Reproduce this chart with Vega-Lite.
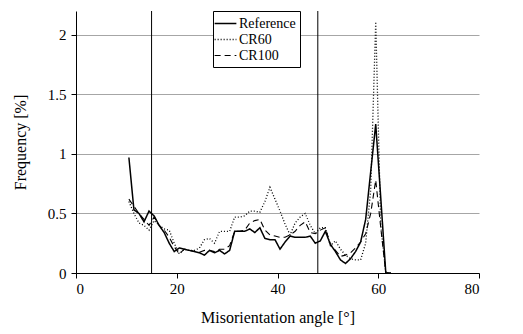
{
  "$schema": "https://vega.github.io/schema/vega-lite/v6.json",
  "width": 403,
  "height": 262,
  "autosize": {"type": "none"},
  "padding": {"left": 76, "top": 11, "right": 44, "bottom": 61},
  "background": "white",
  "config": {
    "view": {"stroke": null},
    "font": "Liberation Serif",
    "axis": {
      "domainColor": "black",
      "tickColor": "black",
      "tickSize": 5,
      "labelFont": "Liberation Serif",
      "labelFontSize": 15,
      "labelColor": "black",
      "titleFont": "Liberation Serif",
      "titleFontSize": 16,
      "titleFontWeight": "normal",
      "titleColor": "black"
    }
  },
  "datasets": {
    "freq": [
      {"a": 10.5, "s": "Reference", "f": 0.97}, {"a": 11.5, "s": "Reference", "f": 0.53}, {"a": 12.5, "s": "Reference", "f": 0.50},
      {"a": 13.5, "s": "Reference", "f": 0.43}, {"a": 14.5, "s": "Reference", "f": 0.52}, {"a": 15.5, "s": "Reference", "f": 0.48},
      {"a": 16.5, "s": "Reference", "f": 0.40}, {"a": 17.5, "s": "Reference", "f": 0.34}, {"a": 18.5, "s": "Reference", "f": 0.25},
      {"a": 19.5, "s": "Reference", "f": 0.18}, {"a": 20.5, "s": "Reference", "f": 0.21}, {"a": 21.5, "s": "Reference", "f": 0.20},
      {"a": 22.5, "s": "Reference", "f": 0.19}, {"a": 23.5, "s": "Reference", "f": 0.18}, {"a": 24.5, "s": "Reference", "f": 0.17},
      {"a": 25.5, "s": "Reference", "f": 0.15}, {"a": 26.5, "s": "Reference", "f": 0.19}, {"a": 27.5, "s": "Reference", "f": 0.17},
      {"a": 28.5, "s": "Reference", "f": 0.19}, {"a": 29.5, "s": "Reference", "f": 0.16}, {"a": 30.5, "s": "Reference", "f": 0.19},
      {"a": 31.5, "s": "Reference", "f": 0.35}, {"a": 32.5, "s": "Reference", "f": 0.35}, {"a": 33.5, "s": "Reference", "f": 0.35},
      {"a": 34.5, "s": "Reference", "f": 0.37}, {"a": 35.5, "s": "Reference", "f": 0.34}, {"a": 36.5, "s": "Reference", "f": 0.38},
      {"a": 37.5, "s": "Reference", "f": 0.29}, {"a": 38.5, "s": "Reference", "f": 0.28}, {"a": 39.5, "s": "Reference", "f": 0.28},
      {"a": 40.5, "s": "Reference", "f": 0.20}, {"a": 41.5, "s": "Reference", "f": 0.26}, {"a": 42.5, "s": "Reference", "f": 0.31},
      {"a": 43.5, "s": "Reference", "f": 0.30}, {"a": 44.5, "s": "Reference", "f": 0.30}, {"a": 45.5, "s": "Reference", "f": 0.30},
      {"a": 46.5, "s": "Reference", "f": 0.31}, {"a": 47.5, "s": "Reference", "f": 0.25}, {"a": 48.5, "s": "Reference", "f": 0.27},
      {"a": 49.5, "s": "Reference", "f": 0.35}, {"a": 50.5, "s": "Reference", "f": 0.24}, {"a": 51.5, "s": "Reference", "f": 0.18},
      {"a": 52.5, "s": "Reference", "f": 0.11}, {"a": 53.5, "s": "Reference", "f": 0.08}, {"a": 54.5, "s": "Reference", "f": 0.12},
      {"a": 55.5, "s": "Reference", "f": 0.18}, {"a": 56.5, "s": "Reference", "f": 0.26}, {"a": 57.5, "s": "Reference", "f": 0.45},
      {"a": 58.5, "s": "Reference", "f": 0.85}, {"a": 59.5, "s": "Reference", "f": 1.25}, {"a": 60.5, "s": "Reference", "f": 0.63},
      {"a": 61.5, "s": "Reference", "f": 0.0}, {"a": 62.5, "s": "Reference", "f": 0.0},

      {"a": 10.5, "s": "CR60", "f": 0.60}, {"a": 11.5, "s": "CR60", "f": 0.50}, {"a": 12.5, "s": "CR60", "f": 0.42},
      {"a": 13.5, "s": "CR60", "f": 0.40}, {"a": 14.5, "s": "CR60", "f": 0.36}, {"a": 15.5, "s": "CR60", "f": 0.44},
      {"a": 16.5, "s": "CR60", "f": 0.40}, {"a": 17.5, "s": "CR60", "f": 0.37}, {"a": 18.5, "s": "CR60", "f": 0.36},
      {"a": 19.5, "s": "CR60", "f": 0.25}, {"a": 20.5, "s": "CR60", "f": 0.16}, {"a": 21.5, "s": "CR60", "f": 0.20},
      {"a": 22.5, "s": "CR60", "f": 0.19}, {"a": 23.5, "s": "CR60", "f": 0.19}, {"a": 24.5, "s": "CR60", "f": 0.21},
      {"a": 25.5, "s": "CR60", "f": 0.28}, {"a": 26.5, "s": "CR60", "f": 0.29}, {"a": 27.5, "s": "CR60", "f": 0.25},
      {"a": 28.5, "s": "CR60", "f": 0.35}, {"a": 29.5, "s": "CR60", "f": 0.35}, {"a": 30.5, "s": "CR60", "f": 0.35},
      {"a": 31.5, "s": "CR60", "f": 0.47}, {"a": 32.5, "s": "CR60", "f": 0.47}, {"a": 33.5, "s": "CR60", "f": 0.48},
      {"a": 34.5, "s": "CR60", "f": 0.52}, {"a": 35.5, "s": "CR60", "f": 0.52}, {"a": 36.5, "s": "CR60", "f": 0.51},
      {"a": 37.5, "s": "CR60", "f": 0.60}, {"a": 38.5, "s": "CR60", "f": 0.72}, {"a": 39.5, "s": "CR60", "f": 0.62},
      {"a": 40.5, "s": "CR60", "f": 0.52}, {"a": 41.5, "s": "CR60", "f": 0.41}, {"a": 42.5, "s": "CR60", "f": 0.32},
      {"a": 43.5, "s": "CR60", "f": 0.42}, {"a": 44.5, "s": "CR60", "f": 0.47}, {"a": 45.5, "s": "CR60", "f": 0.50},
      {"a": 46.5, "s": "CR60", "f": 0.40}, {"a": 47.5, "s": "CR60", "f": 0.33}, {"a": 48.5, "s": "CR60", "f": 0.38},
      {"a": 49.5, "s": "CR60", "f": 0.38}, {"a": 50.5, "s": "CR60", "f": 0.23}, {"a": 51.5, "s": "CR60", "f": 0.27},
      {"a": 52.5, "s": "CR60", "f": 0.20}, {"a": 53.5, "s": "CR60", "f": 0.15}, {"a": 54.5, "s": "CR60", "f": 0.12},
      {"a": 55.5, "s": "CR60", "f": 0.11}, {"a": 56.5, "s": "CR60", "f": 0.11}, {"a": 57.5, "s": "CR60", "f": 0.25},
      {"a": 58.5, "s": "CR60", "f": 0.70}, {"a": 59.5, "s": "CR60", "f": 2.11}, {"a": 60.5, "s": "CR60", "f": 0.40},
      {"a": 61.5, "s": "CR60", "f": 0.0}, {"a": 62.5, "s": "CR60", "f": 0.0},

      {"a": 10.5, "s": "CR100", "f": 0.62}, {"a": 11.5, "s": "CR100", "f": 0.56}, {"a": 12.5, "s": "CR100", "f": 0.50},
      {"a": 13.5, "s": "CR100", "f": 0.45}, {"a": 14.5, "s": "CR100", "f": 0.40}, {"a": 15.5, "s": "CR100", "f": 0.47},
      {"a": 16.5, "s": "CR100", "f": 0.40}, {"a": 17.5, "s": "CR100", "f": 0.36}, {"a": 18.5, "s": "CR100", "f": 0.30},
      {"a": 19.5, "s": "CR100", "f": 0.22}, {"a": 20.5, "s": "CR100", "f": 0.16}, {"a": 21.5, "s": "CR100", "f": 0.20},
      {"a": 22.5, "s": "CR100", "f": 0.19}, {"a": 23.5, "s": "CR100", "f": 0.18}, {"a": 24.5, "s": "CR100", "f": 0.175},
      {"a": 25.5, "s": "CR100", "f": 0.19}, {"a": 26.5, "s": "CR100", "f": 0.19}, {"a": 27.5, "s": "CR100", "f": 0.18},
      {"a": 28.5, "s": "CR100", "f": 0.20}, {"a": 29.5, "s": "CR100", "f": 0.20}, {"a": 30.5, "s": "CR100", "f": 0.23},
      {"a": 31.5, "s": "CR100", "f": 0.35}, {"a": 32.5, "s": "CR100", "f": 0.35}, {"a": 33.5, "s": "CR100", "f": 0.36},
      {"a": 34.5, "s": "CR100", "f": 0.42}, {"a": 35.5, "s": "CR100", "f": 0.44}, {"a": 36.5, "s": "CR100", "f": 0.45},
      {"a": 37.5, "s": "CR100", "f": 0.36}, {"a": 38.5, "s": "CR100", "f": 0.32}, {"a": 39.5, "s": "CR100", "f": 0.31},
      {"a": 40.5, "s": "CR100", "f": 0.30}, {"a": 41.5, "s": "CR100", "f": 0.30}, {"a": 42.5, "s": "CR100", "f": 0.32},
      {"a": 43.5, "s": "CR100", "f": 0.35}, {"a": 44.5, "s": "CR100", "f": 0.40}, {"a": 45.5, "s": "CR100", "f": 0.43},
      {"a": 46.5, "s": "CR100", "f": 0.34}, {"a": 47.5, "s": "CR100", "f": 0.33}, {"a": 48.5, "s": "CR100", "f": 0.36},
      {"a": 49.5, "s": "CR100", "f": 0.38}, {"a": 50.5, "s": "CR100", "f": 0.24}, {"a": 51.5, "s": "CR100", "f": 0.19},
      {"a": 52.5, "s": "CR100", "f": 0.14}, {"a": 53.5, "s": "CR100", "f": 0.15}, {"a": 54.5, "s": "CR100", "f": 0.17},
      {"a": 55.5, "s": "CR100", "f": 0.21}, {"a": 56.5, "s": "CR100", "f": 0.26}, {"a": 57.5, "s": "CR100", "f": 0.33},
      {"a": 58.5, "s": "CR100", "f": 0.50}, {"a": 59.5, "s": "CR100", "f": 0.78}, {"a": 60.5, "s": "CR100", "f": 0.38},
      {"a": 61.5, "s": "CR100", "f": 0.0}, {"a": 62.5, "s": "CR100", "f": 0.0}
    ],
    "bounds": [{"b": 15}, {"b": 48}]
  },
  "layer": [
    {
      "data": {"name": "bounds"},
      "mark": {"type": "rule", "color": "black", "strokeWidth": 1},
      "encoding": {
        "x": {"field": "b", "type": "quantitative", "scale": {"domain": [0, 80]}}
      }
    },
    {
      "mark": {"type": "rule", "color": "black", "strokeWidth": 1},
      "encoding": {"y": {"datum": 2.2, "type": "quantitative"}}
    },
    {
      "data": {"name": "freq"},
      "mark": {"type": "line", "color": "black"},
      "encoding": {
        "x": {
          "field": "a", "type": "quantitative",
          "scale": {"domain": [0, 80], "nice": false},
          "axis": {"values": [0, 20, 40, 60, 80], "grid": false, "title": "Misorientation angle [°]", "labelPadding": 3, "titleBaseline": "alphabetic", "titleY": 49}
        },
        "y": {
          "field": "f", "type": "quantitative",
          "scale": {"domain": [0, 2.2], "nice": false},
          "axis": {"values": [0, 0.5, 1, 1.5, 2], "format": "~g", "grid": true, "gridColor": "#a6a6a6", "gridWidth": 1, "title": "Frequency [%]", "labelPadding": 5, "titleBaseline": "alphabetic", "titleX": -51, "titleY": 131}
        },
        "detail": {"field": "s"},
        "strokeDash": {
          "field": "s", "type": "nominal", "title": null,
          "scale": {"domain": ["Reference", "CR60", "CR100"], "range": [[1, 0], [1, 2], [6, 4]]},
          "legend": {
            "orient": "none", "legendX": 137, "legendY": 0,
            "fillColor": "white", "strokeColor": "black", "padding": 4, "rowPadding": -2,
            "labelFont": "Liberation Serif", "labelFontSize": 14, "labelColor": "black", "labelOffset": 5,
            "symbolType": "M-1.45,0H1.45", "symbolSize": 225, "symbolStrokeColor": "black", "symbolFillColor": "transparent", "symbolStrokeWidth": 1.3
          }
        },
        "strokeWidth": {
          "field": "s", "type": "nominal", "title": null,
          "scale": {"domain": ["Reference", "CR60", "CR100"], "range": [1.5, 1.1, 1.5]},
          "legend": {
            "orient": "none", "legendX": 137, "legendY": 0,
            "fillColor": "white", "strokeColor": "black", "padding": 4, "rowPadding": -2,
            "labelFont": "Liberation Serif", "labelFontSize": 14, "labelColor": "black", "labelOffset": 5,
            "symbolType": "M-1.45,0H1.45", "symbolSize": 225, "symbolStrokeColor": "black", "symbolFillColor": "transparent"
          }
        }
      }
    }
  ]
}
